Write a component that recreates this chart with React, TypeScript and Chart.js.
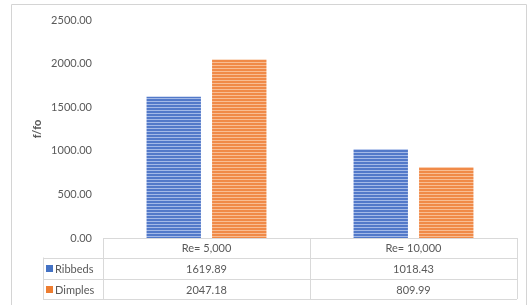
import React, { useEffect, useRef } from "react";
import { Chart, registerables } from "chart.js";

Chart.register(...registerables);

const categories = ["Re= 5,000", "Re= 10,000"];
const ribbeds = [1619.89, 1018.43];
const dimples = [2047.18, 809.99];
const seriesNames = ["Ribbeds", "Dimples"];
const yTicks = [0, 500, 1000, 1500, 2000, 2500];

const FONT = "Lato, 'Open Sans', sans-serif";
const TEXT = "#595959";
const LINE = "#d9d9d9";

function makePattern(base: string, light: string): CanvasPattern | string {
  const c = document.createElement("canvas");
  c.width = 4;
  c.height = 3;
  const g = c.getContext("2d");
  if (!g) return base;
  g.fillStyle = base;
  g.fillRect(0, 0, 4, 3);
  g.fillStyle = light;
  g.fillRect(0, 2, 4, 1);
  const p = g.createPattern(c, "repeat");
  return p || base;
}

const tablePlugin = {
  id: "dataTable",
  afterDraw(chart: any) {
    const ctx = chart.ctx as CanvasRenderingContext2D;
    const area = chart.chartArea;
    const x = chart.scales.x;
    const left = area.left;
    const right = area.right;
    const top = area.bottom;
    const rowH = [19.5, 21.5, 20];
    const r1 = top + rowH[0];
    const r2 = r1 + rowH[1];
    const r3 = r2 + rowH[2];
    const keyLeft = 43;
    const catW = (right - left) / categories.length;

    ctx.save();
    // outer chart border
    ctx.strokeStyle = "#d4d4d4";
    ctx.lineWidth = 1;
    ctx.beginPath();
    ctx.moveTo(11.5, 305);
    ctx.lineTo(11.5, 4.5);
    ctx.lineTo(526.5, 4.5);
    ctx.lineTo(526.5, 305);
    ctx.stroke();

    // table lines
    ctx.strokeStyle = LINE;
    ctx.beginPath();
    const hl = (y: number, x0: number, x1: number) => {
      ctx.moveTo(x0, Math.round(y) + 0.5);
      ctx.lineTo(x1, Math.round(y) + 0.5);
    };
    const vl = (xx: number, y0: number, y1: number) => {
      ctx.moveTo(Math.round(xx) + 0.5, y0);
      ctx.lineTo(Math.round(xx) + 0.5, y1);
    };
    hl(top, left, right);
    hl(r1, keyLeft, right);
    hl(r2, keyLeft, right);
    hl(r3, keyLeft, right);
    vl(keyLeft, r1, r3);
    for (let i = 0; i <= categories.length; i++) {
      vl(left + catW * i, top, r3);
    }
    ctx.stroke();

    // legend keys + values
    const rows = [ribbeds, dimples];
    const keyColors = ["#4472c4", "#ed7d31"];
    const ys = [(r1 + r2) / 2, (r2 + r3) / 2];
    ctx.font = `11px ${FONT}`;
    ctx.textBaseline = "middle";
    rows.forEach((vals, ri) => {
      const y = ys[ri];
      ctx.fillStyle = keyColors[ri];
      ctx.fillRect(46, Math.round(y) - 3, 7, 7);
      ctx.fillStyle = TEXT;
      ctx.textAlign = "left";
      ctx.fillText(seriesNames[ri], 55, y + 1);
      ctx.textAlign = "center";
      vals.forEach((v, ci) => {
        ctx.fillText(v.toFixed(2), x.getPixelForValue(ci), y + 1);
      });
    });
    ctx.restore();
  },
};

export default function App() {
  const ref = useRef<HTMLCanvasElement | null>(null);
  useEffect(() => {
    if (!ref.current) return;
    const blue = makePattern("#5279c9", "#a3b9e7");
    const orange = makePattern("#f08a48", "#f8bd93");
    const chart = new Chart(ref.current, {
      type: "bar",
      data: {
        labels: categories,
        datasets: [
          { label: seriesNames[0], data: ribbeds, backgroundColor: blue as any, barPercentage: 0.83, categoryPercentage: 0.633 },
          { label: seriesNames[1], data: dimples, backgroundColor: orange as any, barPercentage: 0.83, categoryPercentage: 0.633 },
        ],
      },
      options: {
        animation: false,
        responsive: false,
        maintainAspectRatio: false,
        layout: { padding: { left: 27, right: 12, top: 20, bottom: 0 } },
        plugins: { legend: { display: false }, tooltip: { enabled: false } },
        scales: {
          x: {
            grid: { display: false, drawTicks: false },
            border: { display: false },
            ticks: { color: TEXT, font: { family: FONT, size: 11 }, padding: 4 },
            afterFit: (s: any) => { s.height = 305 - 238; },
          },
          y: {
            min: 0,
            max: 2500,
            afterBuildTicks: (s: any) => { s.ticks = yTicks.map((v) => ({ value: v })); },
            grid: { display: false, drawTicks: false },
            border: { display: false },
            ticks: {
              color: TEXT,
              font: { family: FONT, size: 11 },
              padding: 11,
              callback: (v: any) => Number(v).toFixed(2),
            },
            title: {
              display: true,
              text: "f/fo",
              color: TEXT,
              font: { family: FONT, size: 11, weight: "bold" },
              padding: { top: 4, bottom: 0 },
            },
            afterFit: (s: any) => { s.width = 103 - 27; },
          },
        },
      },
      plugins: [tablePlugin],
    });
    return () => chart.destroy();
  }, []);
  return (
    <div style={{ position: "fixed", left: 0, top: 0, width: 529, height: 305, background: "#fff" }}>
      <canvas ref={ref} width={529} height={305} style={{ display: "block" }} />
    </div>
  );
}
